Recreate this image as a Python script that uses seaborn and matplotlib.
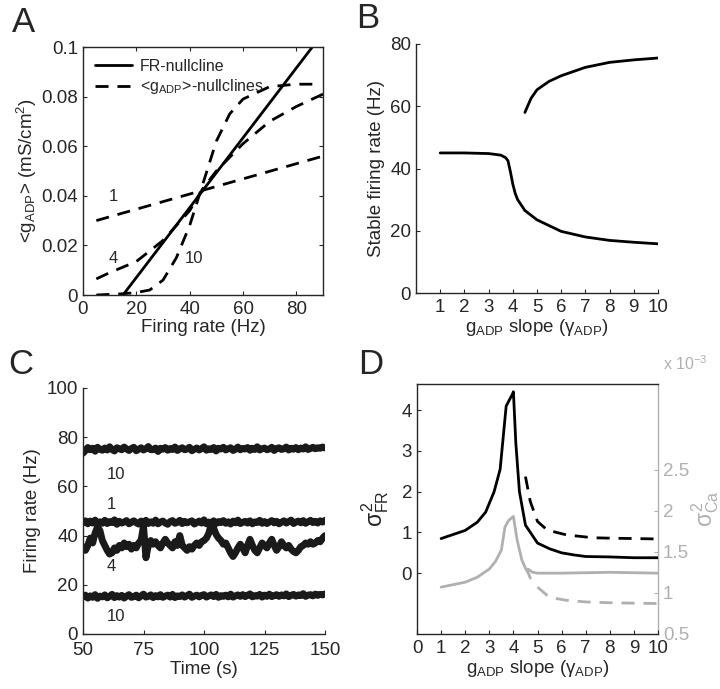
import numpy as np
import seaborn as sns
import matplotlib
matplotlib.use('Agg')
import matplotlib.pyplot as plt

# ---- panel A: nullclines ----
fr_null_x = [15, 86]
fr_null_y = [0.0, 0.1]
null1_x = [5, 90]
null1_y = [0.030, 0.056]
null4_x = [5, 10, 20, 30, 40, 45, 50, 60, 70, 80, 90]
null4_y = [0.0065, 0.009, 0.0135, 0.022, 0.034, 0.043, 0.050, 0.061, 0.070, 0.076, 0.081]
null10_x = [5, 15, 20, 25, 30, 35, 40, 45, 50, 55, 60, 70, 80, 86]
null10_y = [0.0, 0.0005, 0.001, 0.002, 0.006, 0.015, 0.028, 0.045, 0.062, 0.073, 0.079, 0.084, 0.085, 0.085]

# ---- panel B: stable firing rate ----
low_x = [1, 2, 3, 3.5, 3.7, 3.8, 3.9, 4.0, 4.1, 4.2, 4.5, 5, 6, 7, 8, 9, 10]
low_y = [45, 45, 44.8, 44.3, 43.5, 42.5, 39, 35, 32, 30, 26.5, 23.5, 19.8, 18, 16.9, 16.3, 15.8]
high_x = [4.5, 4.75, 5, 5.5, 6, 7, 8, 9, 10]
high_y = [58, 62.5, 65.3, 68, 69.8, 72.5, 74.1, 74.9, 75.5]

# ---- panel C: firing rate traces (50-150 s) ----
trace_10_high = [73.5, 74.6, 75.8, 74.9, 75.5, 74.3, 75.9, 75.1, 74.7, 75.6, 74.8, 76.1, 75.0, 74.4, 75.7,
                 75.3, 74.9, 76.0, 75.2, 74.6, 75.4, 75.9, 74.5, 75.1, 75.7, 74.8, 75.3, 76.2, 74.9, 75.0,
                 75.6, 74.2, 75.5, 75.1, 75.8, 74.7, 75.4, 75.0, 76.0, 74.6, 75.3, 75.7, 74.9, 75.2, 75.9,
                 74.5, 75.1, 75.6, 74.8, 75.4, 76.1, 74.7, 75.3, 75.0, 75.8, 74.4, 75.5, 75.2, 75.9, 74.8,
                 75.3, 75.7, 74.6, 75.1, 76.0, 74.9, 75.4, 75.2, 75.8, 74.7, 75.5, 75.0, 76.1, 74.8, 75.3,
                 75.6, 74.9, 75.2, 75.9, 74.6, 75.4, 75.7, 75.0, 75.3, 76.0, 74.8, 75.5, 75.1, 75.8, 74.9,
                 75.6, 75.2, 76.1, 75.0, 75.4, 75.9, 75.3, 75.7, 75.5, 76.0, 75.6]
trace_1 = [45.2, 46.0, 44.8, 45.9, 45.1, 46.3, 44.7, 45.6, 45.0, 46.2, 44.9, 45.7, 45.3, 46.4, 44.6,
           45.8, 45.1, 45.5, 46.1, 44.8, 45.4, 46.0, 45.2, 44.7, 45.9, 45.3, 46.2, 44.9, 45.6, 45.0,
           46.3, 44.8, 45.5, 45.9, 45.1, 44.6, 45.7, 46.1, 45.0, 45.4, 46.2, 44.9, 45.8, 45.2, 45.6,
           46.0, 44.7, 45.3, 45.9, 45.1, 46.4, 44.8, 45.5, 45.2, 46.0, 44.9, 45.7, 45.3, 46.1, 45.0,
           45.6, 44.7, 45.9, 45.2, 46.3, 44.9, 45.4, 45.8, 45.1, 46.0, 44.8, 45.6, 45.3, 46.2, 45.0,
           45.7, 44.9, 45.5, 46.1, 45.2, 45.8, 44.8, 45.4, 46.0, 45.1, 45.7, 46.3, 44.9, 45.5, 45.9,
           45.2, 46.1, 45.0, 45.6, 46.2, 45.3, 45.8, 45.1, 46.0, 45.5, 46.2]
trace_4 = [35.5, 34, 36, 39, 37, 41, 43.5, 42, 38, 36, 34, 32.5, 33, 35, 34, 36, 35, 37, 35.5, 36.5,
           34.5, 36, 35, 37, 38, 44, 31, 36, 38, 36.5, 37.5, 36, 35, 37, 38.5, 37, 36, 35, 37.5, 36,
           40, 36, 35, 34, 35.5, 34.5, 36, 37, 36, 37.5, 38, 39, 41, 44.5, 43, 40.5, 39, 38, 36.5, 37,
           35, 33, 31.5, 33, 35, 36.5, 35, 33, 36, 38.5, 36, 34, 33, 35, 37, 36, 35, 37, 38.5, 36,
           34, 35.5, 37.5, 36, 35, 36, 34.5, 33.5, 33, 34, 35.5, 36, 37, 36.5, 37.5, 36.5, 37, 38, 37.5,
           39, 40]
trace_10_low = [15.0, 15.8, 14.6, 15.5, 14.9, 16.0, 14.5, 15.4, 15.1, 15.9, 14.7, 15.3, 16.1, 14.8, 15.6,
                15.0, 15.7, 14.6, 15.4, 16.0, 14.9, 15.2, 15.8, 14.7, 15.5, 16.2, 15.0, 15.3, 15.9, 14.8,
                15.6, 15.1, 16.0, 14.9, 15.4, 15.8, 15.0, 16.1, 14.8, 15.5, 15.2, 15.9, 15.0, 15.6, 16.2,
                14.9, 15.4, 15.8, 15.1, 15.7, 16.0, 15.0, 15.5, 15.9, 15.2, 16.1, 14.9, 15.6, 15.3, 15.8,
                15.1, 16.2, 15.0, 15.5, 15.9, 15.3, 16.0, 15.2, 15.7, 16.3, 15.1, 15.6, 15.4, 16.1, 15.0,
                15.8, 15.3, 16.2, 15.2, 15.6, 16.0, 15.3, 15.9, 15.5, 16.3, 15.2, 15.7, 16.1, 15.4, 15.9,
                15.6, 16.4, 15.3, 15.8, 16.0, 15.5, 16.2, 15.7, 16.1, 15.9, 16.3]

# ---- panel D: variances ----
var_fr_x = [1, 1.5, 2, 2.5, 2.85, 3.2, 3.45, 3.7, 3.95, 4.0, 4.1, 4.25, 4.5, 5.0, 5.5, 6.0, 6.5, 7, 8, 9, 10]
var_fr_y = [0.85, 0.95, 1.05, 1.25, 1.5, 2.0, 2.55, 4.1, 4.38, 4.45, 3.2, 2.0, 1.18, 0.74, 0.6, 0.5, 0.45, 0.41, 0.40, 0.38, 0.38]
var_fr_hi_x = [4.5, 4.7, 5.0, 5.4, 6.2, 7.3, 8, 10]
var_fr_hi_y = [2.37, 1.76, 1.27, 1.06, 0.94, 0.87, 0.86, 0.84]
var_ca_x = [1, 1.5, 2, 2.5, 3, 3.25, 3.5, 3.65, 3.8, 4.0, 4.15, 4.35, 4.5, 4.62, 4.7]
var_ca_y = [1.07, 1.10, 1.13, 1.19, 1.29, 1.38, 1.52, 1.80, 1.88, 1.93, 1.65, 1.40, 1.30, 1.24, 1.18]
var_ca_mid_x = [4.6, 4.8, 5, 6, 7, 8, 9, 10]
var_ca_mid_y = [1.29, 1.25, 1.24, 1.24, 1.245, 1.25, 1.245, 1.24]
var_ca_hi_x = [5.0, 5.2, 5.4, 5.8, 6.2, 7, 8, 9, 10]
var_ca_hi_y = [1.07, 1.02, 0.97, 0.93, 0.91, 0.89, 0.88, 0.875, 0.87]

sns.set_style('ticks')
plt.rcParams['font.family'] = ['Liberation Sans', 'DejaVu Sans']
plt.rcParams['mathtext.fontset'] = 'custom'
plt.rcParams['mathtext.rm'] = 'Liberation Sans'
plt.rcParams['mathtext.it'] = 'Liberation Sans'
plt.rcParams['mathtext.sf'] = 'Liberation Sans'
plt.rcParams['xtick.direction'] = 'in'
plt.rcParams['ytick.direction'] = 'in'
plt.rcParams['xtick.major.size'] = 3
plt.rcParams['ytick.major.size'] = 3
plt.rcParams['xtick.major.pad'] = 4
plt.rcParams['axes.linewidth'] = 1.0

FS = 13.5
GRAY = '#b0b0b0'
LW = 2.0
DASH = (0, (4.7, 3.2))

fig = plt.figure(figsize=(7.2, 6.89), dpi=100)
axA = fig.add_axes([83/720, 1-295/689, 240/720, 248/689])
axB = fig.add_axes([416/720, 1-293/689, 242/720, 249/689])
axC = fig.add_axes([83/720, 1-634/689, 242/720, 246/689])
axD = fig.add_axes([417/720, 1-634/689, 241/720, 250/689])

# A
sns.lineplot(x=fr_null_x, y=fr_null_y, ax=axA, color='black', lw=LW, label='FR-nullcline')
sns.lineplot(x=null1_x, y=null1_y, ax=axA, color='black', lw=LW, linestyle=DASH,
             label=r'<g$_{\rm ADP}$>-nullclines')
sns.lineplot(x=null4_x, y=null4_y, ax=axA, color='black', lw=LW, linestyle=DASH)
sns.lineplot(x=null10_x, y=null10_y, ax=axA, color='black', lw=LW, linestyle=DASH)
axA.set_xlim(0, 90)
axA.set_ylim(0, 0.1)
axA.set_xticks([0, 20, 40, 60, 80])
axA.set_yticks([0, 0.02, 0.04, 0.06, 0.08, 0.1])
axA.set_yticklabels(['0', '0.02', '0.04', '0.06', '0.08', '0.1'])
axA.tick_params(top=True, right=True, labelsize=FS)
axA.set_xlabel('Firing rate (Hz)', fontsize=FS, labelpad=1)
axA.set_ylabel(r'<g$_{\rm ADP}$> (mS/cm$^2$)', fontsize=FS, labelpad=2)
axA.legend(loc='upper left', frameon=False, fontsize=11.5, handlelength=2.3,
           borderaxespad=0.35, labelspacing=0.2, handletextpad=0.5)
axA.text(11.3, 0.0396, '1', fontsize=12, ha='center', va='center')
axA.text(11.3, 0.0148, '4', fontsize=12, ha='center', va='center')
axA.text(41.7, 0.0148, '10', fontsize=12, ha='center', va='center')

# B
sns.lineplot(x=low_x, y=low_y, ax=axB, color='black', lw=LW)
sns.lineplot(x=high_x, y=high_y, ax=axB, color='black', lw=LW)
axB.set_xlim(0, 10)
axB.set_ylim(0, 80)
axB.set_xticks(range(1, 11))
axB.set_yticks([0, 20, 40, 60, 80])
axB.tick_params(labelsize=FS)
sns.despine(ax=axB)
axB.set_xlabel(r'g$_{\rm ADP}$ slope ($\gamma_{\rm ADP}$)', fontsize=FS, labelpad=1)
axB.set_ylabel('Stable firing rate (Hz)', fontsize=FS)

# C
for tr in [trace_10_high, trace_1, trace_4, trace_10_low]:
    t = np.linspace(50, 150, len(tr))
    sns.lineplot(x=t, y=tr, ax=axC, color='#1a1a1a', lw=5)
axC.set_xlim(50, 150)
axC.set_ylim(0, 100)
axC.set_xticks([50, 75, 100, 125, 150])
axC.set_yticks([0, 20, 40, 60, 80, 100])
axC.tick_params(labelsize=FS)
axC.tick_params(axis='x', pad=6)
sns.despine(ax=axC)
axC.set_xlabel('Time (s)', fontsize=FS, labelpad=1)
axC.set_ylabel('Firing rate (Hz)', fontsize=FS)
axC.text(63.8, 64.7, '10', fontsize=12, ha='center', va='center')
axC.text(61.7, 52.6, '1', fontsize=12, ha='center', va='center')
axC.text(61.7, 27.5, '4', fontsize=12, ha='center', va='center')
axC.text(63.8, 7.2, '10', fontsize=12, ha='center', va='center')

# D
axD2 = axD.twinx()
sns.lineplot(x=var_ca_x, y=var_ca_y, ax=axD2, color=GRAY, lw=LW)
sns.lineplot(x=var_ca_mid_x, y=var_ca_mid_y, ax=axD2, color=GRAY, lw=LW)
sns.lineplot(x=var_ca_hi_x, y=var_ca_hi_y, ax=axD2, color=GRAY, lw=LW, linestyle=DASH)
sns.lineplot(x=var_fr_x, y=var_fr_y, ax=axD, color='black', lw=LW)
sns.lineplot(x=var_fr_hi_x, y=var_fr_hi_y, ax=axD, color='black', lw=LW, linestyle=DASH)
axD.set_zorder(axD2.get_zorder() + 1)
axD.patch.set_visible(False)
axD.set_xlim(0, 10)
axD.set_ylim(-1.49, 4.64)
axD.set_xticks(range(0, 11))
axD.set_yticks([0, 1, 2, 3, 4])
axD.tick_params(labelsize=FS)
axD.spines['right'].set_visible(False)
axD.set_xlabel(r'g$_{\rm ADP}$ slope ($\gamma_{\rm ADP}$)', fontsize=FS, labelpad=1)
axD.set_ylabel(r'$\sigma^2_{\rm FR}$', fontsize=FS + 3, labelpad=8)
axD2.set_ylim(0.5, 3.54)
axD2.set_yticks([0.5, 1, 1.5, 2, 2.5])
axD2.set_yticklabels(['0.5', '1', '1.5', '2', '2.5'])
axD2.tick_params(axis='y', colors=GRAY, labelsize=FS)
axD2.spines['right'].set_color(GRAY)
axD2.spines['top'].set_visible(False)
axD2.spines['left'].set_visible(False)
axD2.spines['bottom'].set_visible(False)
axD2.set_ylabel(r'$\sigma^2_{\rm Ca}$', fontsize=FS + 3, color=GRAY, rotation=90, labelpad=0)
axD2.text(1.02, 1.045, r'x 10$^{-3}$', transform=axD2.transAxes, fontsize=11.5, color=GRAY,
          ha='left', va='bottom')

# panel letters
for lab, x, y in [('A', 12, 6), ('B', 356, 2), ('C', 8, 348), ('D', 358, 348)]:
    fig.text(x/720, 1 - y/689, lab, fontsize=25, ha='left', va='top')

fig.savefig('out.png', dpi=100)
